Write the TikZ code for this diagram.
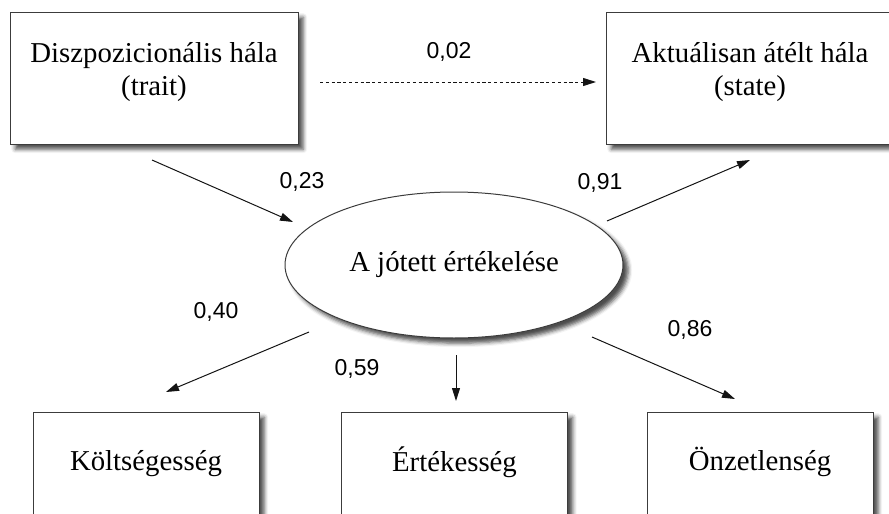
\documentclass[tikz,border=0pt]{standalone}
\usepackage{fontspec}
\setmainfont{Liberation Serif}
\newfontfamily\numfont{Liberation Sans}
\usetikzlibrary{arrows.meta,shapes.geometric,shadows.blur}
\definecolor{boxline}{RGB}{60,60,60}
\definecolor{arrline}{RGB}{20,20,20}
% text lifted inside its box without changing the box size
\newcommand{\lifted}[2]{\raisebox{#1}[\height][\depth]{\begin{tabular}{@{}c@{}}#2\end{tabular}}}

\begin{document}
\begin{tikzpicture}[
  x=0.5pt, y=-0.5pt,
  font=\fontsize{14.4}{16}\selectfont,
  shadowed/.style={
    blur shadow={shadow xshift=2.6pt, shadow yshift=-2.6pt,
                 shadow blur radius=2pt, shadow opacity=70}
  },
  topbox/.style={                          % upper variables
    draw=boxline, line width=0.5pt, fill=white, shadowed,
    rectangle, minimum width=144pt, minimum height=66pt, inner sep=0pt
  },
  lowbox/.style={                          % indicators, cut by the lower edge
    draw=boxline, line width=0.5pt, fill=white, shadowed,
    rectangle, minimum width=113pt, minimum height=70pt, inner sep=0pt
  },
  latent/.style={
    draw=boxline, line width=0.5pt, fill=white, shadowed,
    ellipse, minimum width=169pt, minimum height=73pt, inner sep=0pt
  },
  num/.style={font=\numfont\fontsize{11.5}{13}\selectfont, inner sep=1pt},
  path/.style={draw=arrline, line width=0.5pt,
               -{Triangle[length=6.5pt, width=4pt]}},
]
\useasboundingbox (0,0) rectangle (889,514);
\clip (0,0) rectangle (889,514);

% ---- Nodes ----
\node (trait) at (154,78)    [topbox] {\lifted{2.7pt}{Diszpozicionális hála\\(trait)}};
\node (state) at (750,78)    [topbox] {\lifted{2.7pt}{Aktuálisan átélt hála\\(state)}};

\node (eval)  at (454,265)   [latent] {A jótett értékelése};

\node (cost)  at (146,482)   [lowbox] {\lifted{9.2pt}{Költségesség}};
\node (value) at (454.5,482) [lowbox] {\lifted{9.2pt}{Értékesség}};
\node (self)  at (760,482)   [lowbox] {\lifted{9.2pt}{Önzetlenség}};

% ---- Path ends (the arrows stop short of the shapes) ----
\coordinate (d1) at (320,82);  \coordinate (d2) at (596,82);
\coordinate (t1) at (152,160); \coordinate (t2) at (293,222);
\coordinate (s1) at (607,221); \coordinate (s2) at (750,160);
\coordinate (c1) at (309,332); \coordinate (c2) at (166,392);
\coordinate (v1) at (456,355); \coordinate (v2) at (456,401);
\coordinate (o1) at (592,337); \coordinate (o2) at (735,399);

% ---- Paths ----
\draw[path, dash pattern=on 1.6pt off 1.3pt] (d1) -- (d2);
\foreach \a/\b in {t1/t2, s1/s2, c1/c2, v1/v2, o1/o2}
  \draw[path] (\a) -- (\b);

% ---- Coefficients ----
\node (k02) at (449,52)  [num] {0,02};
\node (k23) at (302,182) [num] {0,23};
\node (k91) at (600,183) [num] {0,91};
\node (k40) at (216,312) [num] {0,40};
\node (k59) at (357,369) [num] {0,59};
\node (k86) at (690,330) [num] {0,86};

\end{tikzpicture}
\end{document}
